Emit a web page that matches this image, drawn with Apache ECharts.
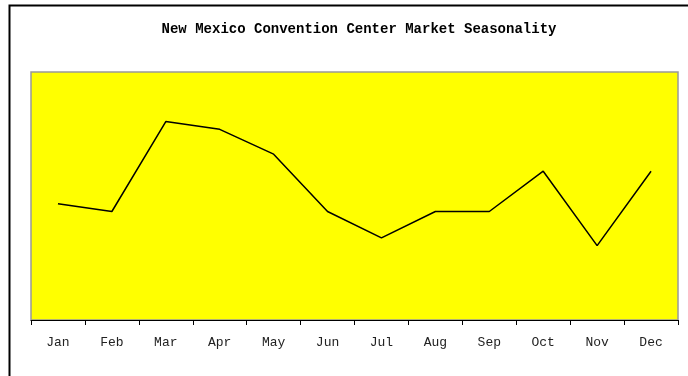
<!DOCTYPE html>
<html>
<head>
<meta charset="utf-8">
<script src="https://cdn.jsdelivr.net/npm/echarts@6/dist/echarts.min.js"></script>
<style>
  html, body { margin: 0; padding: 0; background: #fff; }
  #chart { width: 688px; height: 376px; }
</style>
</head>
<body>
<div id="chart"></div>
<script>
// share of annual convention business by month (%)
const months = ['Jan', 'Feb', 'Mar', 'Apr', 'May', 'Jun', 'Jul', 'Aug', 'Sep', 'Oct', 'Nov', 'Dec'];
const seasonality = [7.5, 7.0, 12.8, 12.3, 10.7, 7.0, 5.3, 7.0, 7.0, 9.6, 4.8, 9.6];

const chart = echarts.init(document.getElementById('chart'));
chart.setOption({
  animation: false,
  title: {
    text: 'New Mexico Convention Center Market Seasonality',
    left: 354,
    top: 17,
    textAlign: 'center',
    textStyle: {
      fontFamily: 'Liberation Mono',
      fontWeight: 'bold',
      fontSize: 14,
      color: '#000'
    }
  },
  graphic: [
    {
      type: 'rect',
      shape: { x: 9.5, y: 5.5, width: 720, height: 420 },
      style: { fill: null, stroke: '#000', lineWidth: 2 },
      silent: true
    }
  ],
  grid: {
    left: 31,
    right: 10,
    top: 72,
    bottom: 56,
    show: true,
    backgroundColor: '#ffff00',
    borderColor: '#999',
    borderWidth: 1.5
  },
  xAxis: {
    type: 'category',
    data: months,
    boundaryGap: true,
    axisLine: { lineStyle: { color: '#000', width: 1 } },
    axisTick: { show: true, alignWithLabel: false, length: 5, lineStyle: { color: '#000' } },
    axisLabel: {
      margin: 16,
      fontFamily: 'Liberation Mono',
      fontSize: 13,
      color: '#222'
    }
  },
  yAxis: {
    type: 'value',
    min: 0,
    max: 16,
    show: false,
    splitLine: { show: false }
  },
  series: [
    {
      type: 'line',
      data: seasonality,
      symbol: 'none',
      lineStyle: { color: '#000', width: 1.5 }
    }
  ]
});
</script>
</body>
</html>
